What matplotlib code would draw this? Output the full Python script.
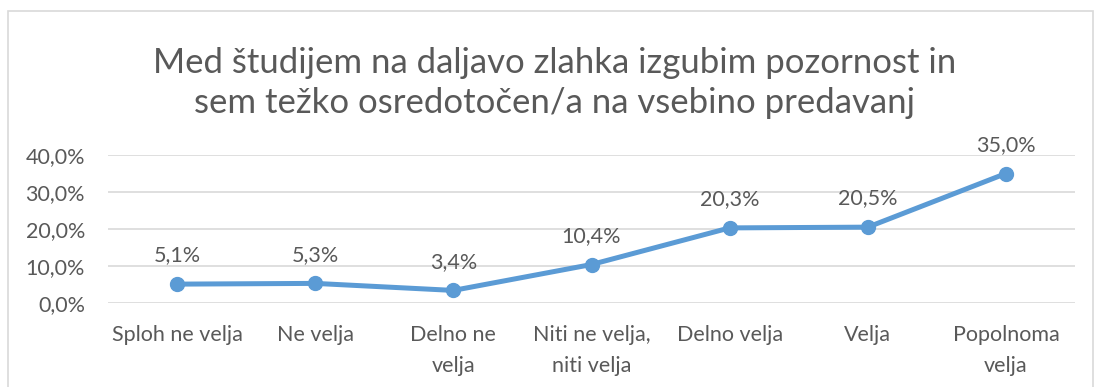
import matplotlib.pyplot as plt
from matplotlib.patches import Rectangle

categories = ['Sploh ne velja', 'Ne velja', 'Delno ne\nvelja', 'Niti ne velja,\nniti velja',
              'Delno velja', 'Velja', 'Popolnoma\nvelja']
values = [5.1, 5.3, 3.4, 10.4, 20.3, 20.5, 35.0]
yticks = [0, 10, 20, 30, 40]
title = 'Med študijem na daljavo zlahka izgubim pozornost in\nsem težko osredotočen/a na vsebino predavanj'

plt.rcParams['font.family'] = ['Lato', 'DejaVu Sans']
txt = '#595959'
blue = '#5B9BD5'

fig = plt.figure(figsize=(10.94, 3.87), dpi=100)
# chart frame (only left, top, right edges visible)
fig.patches.append(Rectangle((8 / 1094, -0.1), 1085 / 1094, 1.1 - 11 / 387, transform=fig.transFigure,
                             fill=False, edgecolor='#D9D9D9', linewidth=1.2))

ax = fig.add_axes([108 / 1094, 1 - 303 / 387, 967 / 1094, 148 / 387])
x = range(len(categories))
ax.plot(x, values, color=blue, linewidth=3.6, marker='o', markersize=10, solid_capstyle='round', zorder=3)
for xi, v in zip(x, values):
    ax.annotate(f'{v:.1f}%'.replace('.', ','), (xi, v), xytext=(0, 13.5), textcoords='offset points',
                ha='center', va='bottom', fontsize=15.5, color=txt)

ax.set_xlim(-0.5, len(categories) - 0.5)
ax.set_ylim(0, 40)
ax.set_yticks(yticks)
ax.set_yticklabels([f'{t:.1f}%'.replace('.', ',') for t in yticks])
ax.set_xticks(list(x))
ax.set_xticklabels(categories, linespacing=1.65, va='top')
ax.tick_params(axis='both', length=0, labelsize=15.5, colors=txt)
ax.tick_params(axis='x', pad=16)
ax.tick_params(axis='y', pad=16.5)
ax.grid(axis='y', color='#D9D9D9', linewidth=1.2)
ax.set_axisbelow(True)
for s in ax.spines.values():
    s.set_visible(False)

fig.text(555 / 1094, 1 - 83 / 387, title, ha='center', va='center', fontsize=25, color=txt, linespacing=1.3)

fig.savefig('out.png', dpi=100)
